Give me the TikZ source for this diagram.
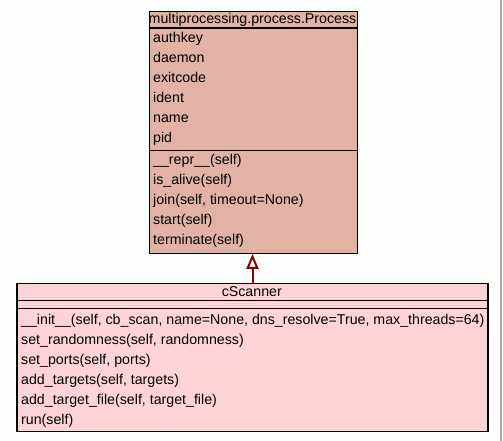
\documentclass[tikz,border=0pt]{standalone}
\usepackage{fontspec}
\setmainfont{Liberation Sans}
\usetikzlibrary{arrows.meta}
\definecolor{procfill}{HTML}{E2B2A5}
\definecolor{scanfill}{HTML}{FED3D6}
\definecolor{bgcol}{HTML}{FCFEFC}
\definecolor{arrowcol}{HTML}{8B0000}
\tikzset{
  classbox/.style={draw=black, line width=1.2bp, inner sep=0pt, anchor=north west},
  sepline/.style={draw=black, line width=1.2bp},
  member/.style={anchor=base west, inner sep=0pt, font=\fontsize{14.2bp}{16bp}\selectfont},
  ctitle/.style={anchor=base, inner sep=0pt, font=\fontsize{14.2bp}{16bp}\selectfont},
  inherit/.style={draw=arrowcol, line width=2bp, -{Triangle[open, length=15bp, width=12bp, fill=white]}}
}
\begin{document}
\begin{tikzpicture}[x=1bp,y=-1bp]
\useasboundingbox (0,0) rectangle (503,441);
\fill[bgcol] (0,0) rectangle (503,441);
\draw[gray!70, line width=2bp] (501,0) -- (501,441);

% Process class
\node[classbox, fill=procfill, minimum width=208bp, minimum height=242bp] (proc) at (148.5,10.7) {};
\coordinate (p1l) at (148.5,28); \coordinate (p1r) at (356.5,28);
\coordinate (p2l) at (148.5,150.7); \coordinate (p2r) at (356.5,150.7);
\draw[sepline] (p1l) -- (p1r);
\draw[sepline] (p2l) -- (p2r);
\node[ctitle] (ptitle) at (252.5,23.5) {multiprocessing.process.Process};
\node[member] (pa1) at (153,43) {authkey};
\node[member] (pa2) at (153,63) {daemon};
\node[member] (pa3) at (153,83) {exitcode};
\node[member] (pa4) at (153,103) {ident};
\node[member] (pa5) at (153,123) {name};
\node[member] (pa6) at (153,143) {pid};
\node[member] (pm1) at (153,165) {\_\_repr\_\_(self)};
\node[member] (pm2) at (153,185) {is\_alive(self)};
\node[member] (pm3) at (153,205) {join(self, timeout=None)};
\node[member] (pm4) at (153,225) {start(self)};
\node[member] (pm5) at (153,245) {terminate(self)};

% cScanner class
\node[classbox, fill=scanfill, minimum width=471bp, minimum height=148bp] (scan) at (16.3,283) {};
\coordinate (s1l) at (16.3,300.7); \coordinate (s1r) at (487.3,300.7);
\coordinate (s2l) at (16.3,308.7); \coordinate (s2r) at (487.3,308.7);
\draw[sepline] (s1l) -- (s1r);
\draw[sepline] (s2l) -- (s2r);
\node[ctitle] (stitle) at (251.8,296) {cScanner};
\node[member] (sm1) at (21,324) {\_\_init\_\_(self, cb\_scan, name=None, dns\_resolve=True, max\_threads=64)};
\node[member] (sm2) at (21,344) {set\_randomness(self, randomness)};
\node[member] (sm3) at (21,364) {set\_ports(self, ports)};
\node[member] (sm4) at (21,384) {add\_targets(self, targets)};
\node[member] (sm5) at (21,404) {add\_target\_file(self, target\_file)};
\node[member] (sm6) at (21,424) {run(self)};

% inheritance
\draw[inherit] (scan.north -| 252.5,0) -- (proc.south -| 252.5,0);
\end{tikzpicture}
\end{document}
